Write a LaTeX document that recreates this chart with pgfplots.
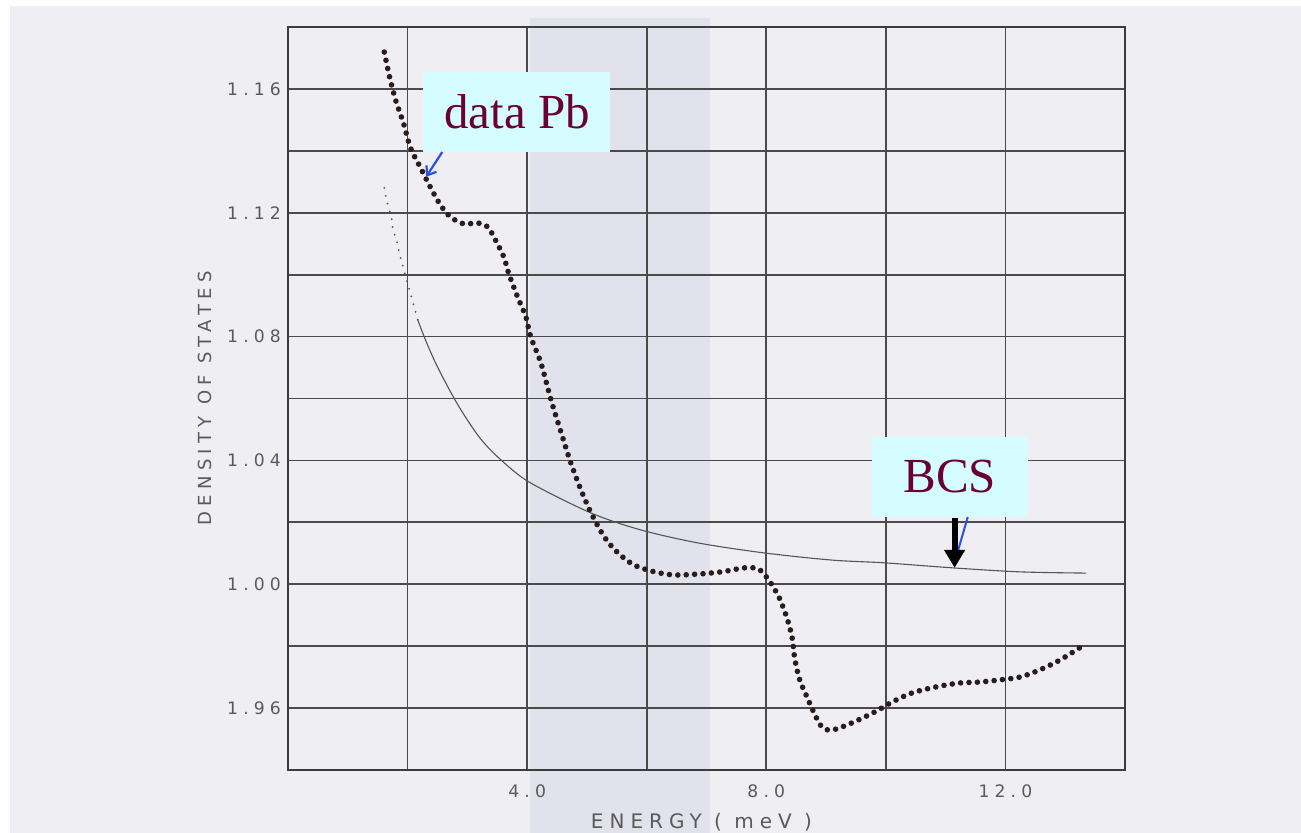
\documentclass[border=0pt]{standalone}
\usepackage{fontspec}
\setmainfont{Liberation Serif}
\newfontfamily\plotsans[LetterSpace=30]{DejaVu Sans}
\usepackage{pgfplots}
\pgfplotsset{compat=1.18}
\usetikzlibrary{arrows.meta}
\definecolor{scanbg}{HTML}{EEEEF3}
\definecolor{bandc}{HTML}{E1E2EB}
\definecolor{gridc}{HTML}{4A4A4A}
\definecolor{axisc}{HTML}{3C3C3C}
\definecolor{tickc}{HTML}{5A5A5A}
\definecolor{boxc}{HTML}{D5FDFF}
\definecolor{textc}{HTML}{6B0035}
\definecolor{dotc}{HTML}{2A1C1C}
\definecolor{bcsc}{HTML}{555555}
\definecolor{penblue}{HTML}{2F4FE0}

\pgfplotstableread{
E D
1.61 1.1719
1.70 1.1638
1.80 1.1564
1.93 1.1490
2.05 1.1409
2.21 1.1348
2.38 1.1283
2.55 1.1225
2.72 1.1186
2.94 1.1164
3.17 1.1167
3.34 1.1154
3.47 1.1112
3.61 1.1057
3.69 1.1005
3.84 1.0928
3.98 1.0863
4.06 1.0799
4.23 1.0715
4.40 1.0595
4.57 1.0489
4.73 1.0392
4.90 1.0305
5.07 1.0230
5.29 1.0153
5.52 1.0101
5.79 1.0062
6.13 1.0040
6.46 1.0030
6.87 1.0033
7.25 1.0040
7.64 1.0053
7.87 1.0049
8.04 1.0014
8.21 0.9959
8.34 0.9894
8.43 0.9830
8.48 0.9755
8.56 0.9691
8.68 0.9636
8.80 0.9584
8.93 0.9539
9.10 0.9529
9.43 0.9552
9.82 0.9588
10.11 0.9620
10.44 0.9649
10.83 0.9668
11.23 0.9681
11.57 0.9684
11.90 0.9691
12.24 0.9700
12.57 0.9723
12.91 0.9755
13.26 0.9797
}\pbdata

\pgfplotstableread{
E D
1.61 1.1280
1.66 1.1232
1.73 1.1186
1.76 1.1144
1.83 1.1102
1.88 1.1057
2.17 1.0854
}\bcsupper

\pgfplotstableread{
E D
2.17 1.0854
2.30 1.0789
2.50 1.0702
2.84 1.0580
3.22 1.0470
3.60 1.0395
4.06 1.0327
5.07 1.0230
5.91 1.0175
6.87 1.0133
7.97 1.0101
9.10 1.0078
9.99 1.0069
11.11 1.0053
12.24 1.0040
13.35 1.0036
}\bcslower

\begin{document}
\begin{tikzpicture}
\path[use as bounding box] (-144pt,-31.5pt) rectangle (506.5pt,385pt);
\fill[white] (-144pt,-31.5pt) rectangle (506.5pt,385pt);
\fill[scanbg] (-139pt,-31.5pt) rectangle (506.5pt,382pt);
\fill[bandc] (121pt,-31.5pt) rectangle (211pt,376pt);
\begin{axis}[
  at={(0pt,0pt)}, anchor=south west,
  scale only axis, width=418.5pt, height=371.5pt,
  xmin=0, xmax=14, ymin=0.94, ymax=1.18,
  xtick={2,4,6,8,10,12},
  xticklabels={,4.0,,8.0,,12.0},
  ytick={0.96,0.98,1.00,1.02,1.04,1.06,1.08,1.10,1.12,1.14,1.16},
  yticklabels={1.96,,1.00,,1.04,,1.08,,1.12,,1.16},
  grid=major,
  major grid style={line width=0.9pt, color=gridc},
  major tick length=0pt,
  axis line style={line width=1.2pt, color=axisc},
  /pgf/number format/assume math mode=true,
  tick label style={font=\plotsans\fontsize{8.6}{10}\selectfont, text=tickc},
  xticklabel style={yshift=-4pt},
  xlabel={ENERGY ( meV )},
  ylabel={DENSITY OF STATES},
  xlabel style={at={(axis description cs:0.494,0)}, anchor=center, yshift=-26pt,
    font=\plotsans\fontsize{10}{12}\selectfont, text=tickc},
  ylabel style={at={(axis description cs:0,0.5)}, anchor=center, yshift=41.5pt,
    font=\plotsans\fontsize{9}{11}\selectfont, text=tickc},
  clip=false,
]
\addplot[bcsc, line width=1.0pt, dash pattern=on 0pt off 4pt, line cap=round, smooth] table[x=E, y=D] {\bcsupper};
\addplot[bcsc, line width=0.55pt, smooth] table[x=E, y=D] {\bcslower};
\addplot[dotc, line width=2.8pt, dash pattern=on 0pt off 4.2pt, line cap=round, smooth] table[x=E, y=D] {\pbdata};

\node[fill=boxc, minimum width=93.5pt, minimum height=40pt, inner sep=0pt, text=textc,
  font=\fontsize{24.5}{28}\selectfont] at (axis cs:3.83,1.1525) {data Pb};
\node[fill=boxc, minimum width=78pt, minimum height=40pt, inner sep=0pt, text=textc,
  font=\fontsize{24.5}{28}\selectfont] at (axis cs:11.07,1.0347) {BCS};

\draw[penblue, line width=1.1pt, -{Straight Barb[length=4pt,width=6pt]}] (axis cs:2.58,1.1396) -- (axis cs:2.31,1.1316);
\draw[penblue, line width=1.0pt] (axis cs:11.37,1.0217) -- (axis cs:11.2,1.0104);
\draw[black, line width=3pt, -{Triangle[width=10pt,length=9pt]}] (axis cs:11.15,1.0214) -- (axis cs:11.15,1.0053);
\end{axis}
\end{tikzpicture}
\end{document}
